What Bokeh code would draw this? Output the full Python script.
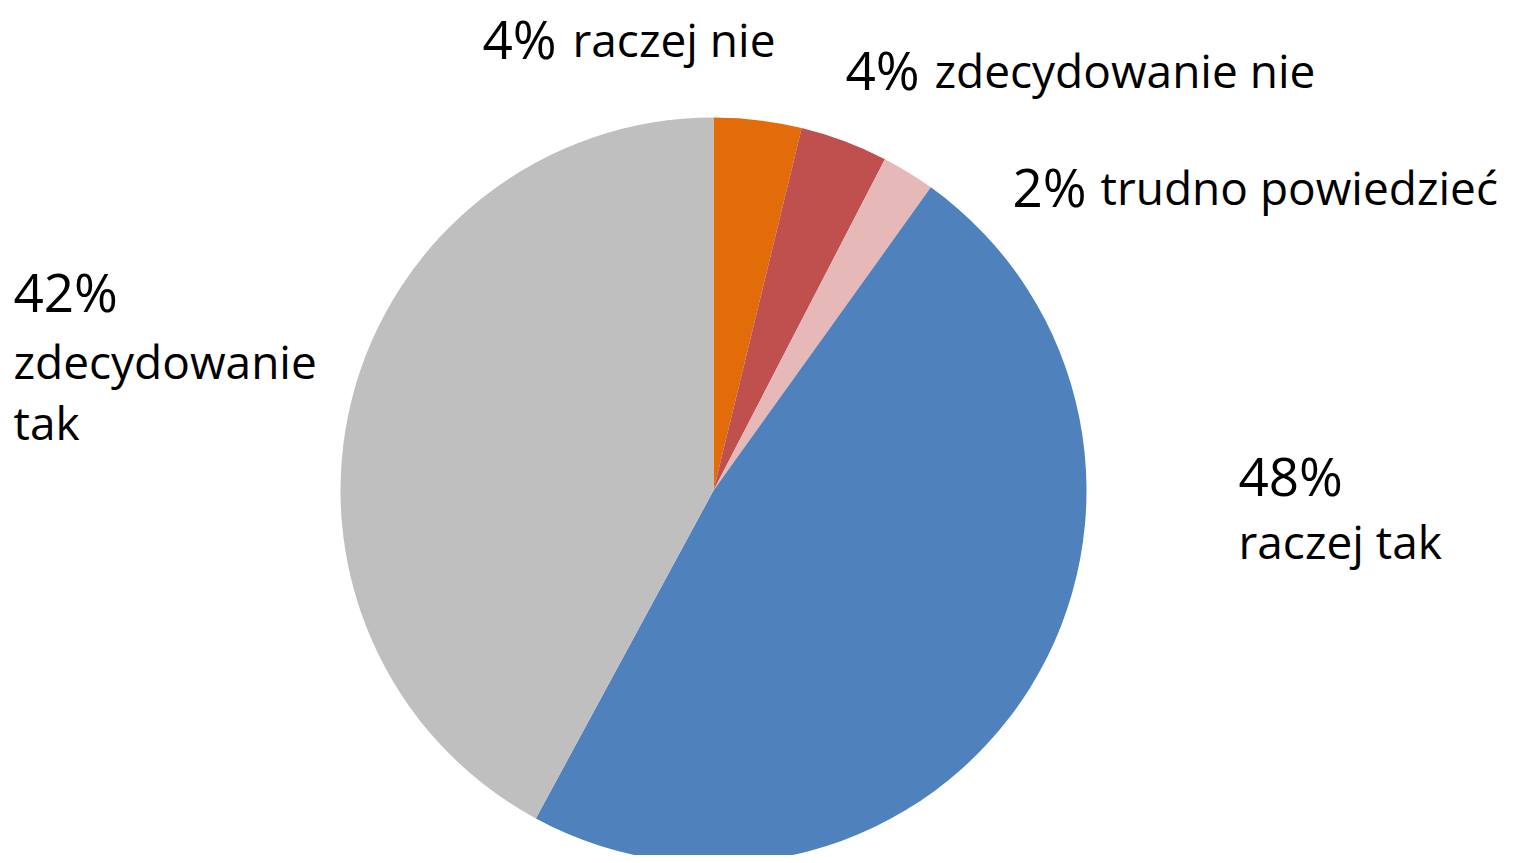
import numpy as np
from bokeh.plotting import figure
from bokeh.models import Range1d, ColumnDataSource
from bokeh.core.properties import value
from bokeh.embed import file_html
from bokeh.resources import INLINE

# Data (clockwise from 12 o'clock)
categories = ["raczej nie", "zdecydowanie nie", "trudno powiedzieć", "raczej tak", "zdecydowanie tak"]
shares = [3.8, 3.8, 2.3, 48.0, 42.1]
pct_labels = ["4%", "4%", "2%", "48%", "42%"]
colors = ["#E36C0A", "#C0504D", "#E6B9B8", "#4F81BD", "#BFBFBF"]

W, H = 1505, 855
p = figure(width=W, height=H, output_backend="svg", toolbar_location=None,
           x_range=Range1d(0, W), y_range=Range1d(863 - H, 863),
           min_border=0, background_fill_color="white", border_fill_color="white")
p.axis.visible = False
p.grid.visible = False
p.outline_line_color = None

vals = np.array(shares, dtype=float)
frac = vals / vals.sum()
cum = np.concatenate([[0], np.cumsum(frac)])
start = np.pi / 2 - 2 * np.pi * cum[:-1]
end = np.pi / 2 - 2 * np.pi * cum[1:]

src = ColumnDataSource(dict(start=start, end=end, color=colors, cat=categories))
cx, cy, r = 713, 863 - 490, 373
p.wedge(x=cx, y=cy, radius=r, start_angle="start", end_angle="end",
        direction="clock", fill_color="color", line_color=None, source=src)

FONT = value("Open Sans")
DY = 22
def Y(sy):
    return 863 - (sy - DY)

# percentage texts (large)
pct_pos = [(482, 60), (845, 91), (1012, 208), (1238, 497), (13, 313)]
p.text(x=[q[0] for q in pct_pos], y=[Y(q[1]) for q in pct_pos], text=pct_labels,
       text_font=FONT, text_font_size="53px", text_color="black",
       text_baseline="alphabetic", text_align="left")

# category texts
cat_pos = [(572, 60), (934, 91), (1100, 208), (1238, 562)]
p.text(x=[q[0] for q in cat_pos], y=[Y(q[1]) for q in cat_pos], text=categories[:4],
       text_font=FONT, text_font_size="46px", text_color="black",
       text_baseline="alphabetic", text_align="left")

# left label on two lines
words = categories[4].split(" ")
p.text(x=[13, 13], y=[Y(382), Y(443)], text=words,
       text_font=FONT, text_font_size="46px", text_color="black",
       text_baseline="alphabetic", text_align="left")

open("out.html", "w").write(file_html(p, INLINE))
